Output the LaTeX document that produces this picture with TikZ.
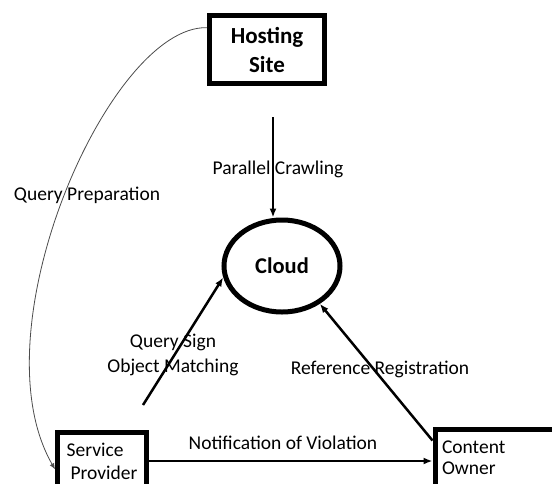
\documentclass[tikz,border=0pt]{standalone}
\usepackage{fontspec}
\setmainfont{Carlito}
\usetikzlibrary{arrows.meta,shapes.geometric}
\begin{document}
\begin{tikzpicture}[x=1pt,y=-1pt,line width=2.5pt,
   party/.style={draw,line width=5pt,shape=rectangle,inner sep=2pt},
   lbl/.style={font=\fontsize{19.5}{25}\selectfont,align=center},
   flow/.style={-{Latex[length=9pt,width=7pt]}}]

   \clip (0,0) rectangle (552,483);
   \fill[white] (0,0) rectangle (552,483);

     \path (267,49.5) node[party,minimum width=115,minimum height=68,align=center,
        font=\fontsize{23}{29}\selectfont\bfseries] (hs) {Hosting\\Site};
     \path (282,266) node[draw,shape=ellipse,line width=5pt,minimum width=116,minimum height=92,
        font=\fontsize{22.5}{27}\selectfont\bfseries] (cloud) {Cloud};
     \path (102,461) node[party,minimum width=89,minimum height=57,align=left,
        font=\fontsize{19.5}{23}\selectfont] (sp) {Service\\\hspace{4pt}Provider};
     \path (496,458) node[party,minimum width=122,minimum height=58,align=left,text width=108,
        font=\fontsize{19.5}{21}\selectfont] (co) {Content\\Owner};

     \coordinate (pctop) at (273,117);
     \coordinate (qsfoot) at (143,405);

      % arrows
      \draw[flow] (pctop) -- (pctop |- cloud.north);
      \draw[flow] (qsfoot) -- (cloud.191);
      \draw[flow] ([yshift=-14pt]co.north west) -- (cloud.-45);
      \draw[flow] (sp.east) -- (sp.east -| co.west);
      \draw[line width=.8pt,black!70,-{Latex[length=6pt,width=5pt]}]
         (hs.160) .. controls (110,25) and (-25,330) .. (sp.190);

      % labels
      \path (278,169) node[lbl] (pc) {Parallel Crawling};
      \path (87,195) node[lbl] (qp) {Query Preparation};
      \path (173,355) node[lbl] (qs) {Query Sign\\Object Matching};
      \path (380,369) node[lbl] (rr) {Reference Registration};
      \path (283,443) node[lbl] (nv) {Notification of Violation};

   \end{tikzpicture}
\end{document}
